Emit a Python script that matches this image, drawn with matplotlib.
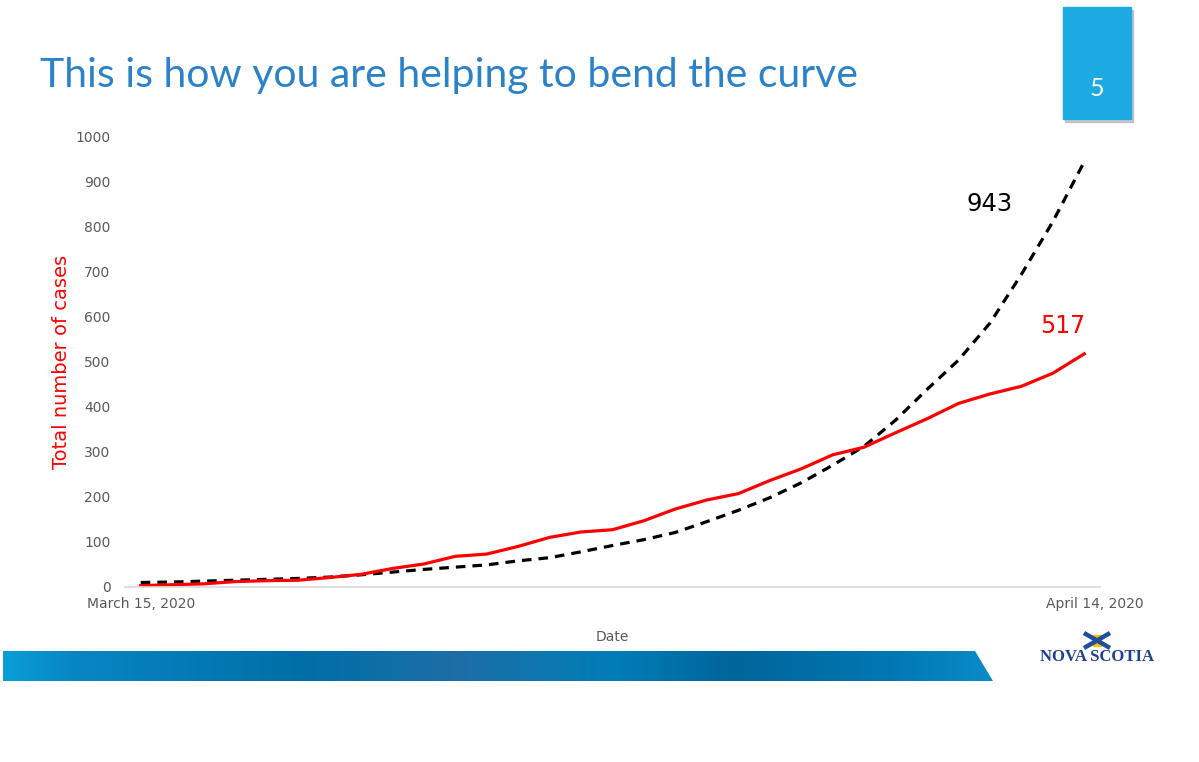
import numpy as np
import matplotlib.pyplot as plt
import matplotlib.transforms as mtransforms
from matplotlib.patches import Rectangle, Polygon
from matplotlib.colors import LinearSegmentedColormap


# --- Data ---

first_day = "March 15, 2020"
last_day = "April 14, 2020"

# confirmed cases, one value per day, Mar 15 .. Apr 14
confirmed = [3, 5, 7, 12, 14, 15, 21, 28, 41, 51, 68, 73, 90, 110, 122, 127,
             147, 173, 193, 207, 236, 262, 293, 310, 342, 373, 407, 428, 445,
             474, 517]

# projected curve without distancing
projected = [10, 11, 13, 15, 17, 19, 22, 27, 33, 39, 44, 49, 58, 65, 78, 92,
             105, 121, 145, 170, 198, 231, 270, 312, 370, 438, 503, 585, 693,
             810, 943]

y_ticks = [0, 100, 200, 300, 400, 500, 600, 700, 800, 900, 1000]

title = "This is how you are helping to bend the curve"
slide_no = "5"


# --- Figure and page decorations ---

W, H = 1199, 762
fig = plt.figure(figsize=(W / 100, H / 100), dpi=100)
fig.patch.set_facecolor("white")

bg = fig.add_axes([0, 0, 1, 1])
bg.set_xlim(0, W)
bg.set_ylim(H, 0)
bg.axis("off")

bg.text(40, 75, title, fontsize=29.5, color="#2C82C9", family="Lato",
        va="center", ha="left")

# slide number box with a soft shadow
bg.add_patch(Rectangle((1065, 10), 68, 112, color="#9a9a9a", alpha=0.5))
bg.add_patch(Rectangle((1063, 7), 68, 112, color="#1DA9E1"))
bg.text(1097, 88, slide_no, fontsize=18, color="white", family="Lato",
        ha="center", va="center")

# footer band with a blue gradient
band = Polygon([(3, 651), (975, 651), (993, 681), (3, 681)], closed=True,
               facecolor="none", edgecolor="none")
bg.add_patch(band)
band_cmap = LinearSegmentedColormap.from_list("band", [
    (0.00, "#0A9ED8"), (0.07, "#0886C4"), (0.30, "#006FA8"),
    (0.46, "#1D6EA5"), (0.62, "#007DB8"), (0.74, "#00659A"),
    (0.90, "#0078B4"), (1.00, "#0A8CC8"),
])
grad = np.linspace(0, 1, 512).reshape(1, -1)
im = bg.imshow(grad, cmap=band_cmap, extent=[3, 993, 681, 651],
               aspect="auto", interpolation="bicubic")
im.set_clip_path(band)
bg.set_xlim(0, W)
bg.set_ylim(H, 0)

# Nova Scotia logo (rough)
bg.plot([1084, 1110], [633, 648], color="#1F4E9C", lw=3.2, solid_capstyle="butt")
bg.plot([1084, 1110], [648, 633], color="#1F4E9C", lw=3.2, solid_capstyle="butt")
bg.add_patch(Rectangle((1093, 635), 8, 11, color="#F2C500"))
bg.text(1097, 657, "NOVA SCOTIA", fontsize=12, fontweight="bold",
        family="Liberation Serif", color="#1F3F8F", ha="center", va="center")


# --- Chart ---

ax = fig.add_axes([125 / W, 1 - 587 / H, 975 / W, 451 / H])
ax.set_facecolor("none")

days = np.arange(len(confirmed))
ax.plot(days, projected, color="black", lw=2.3, ls=(0, (3, 2.2)))
ax.plot(days, confirmed, color="#FF0000", lw=2.3)

ax.set_xlim(-0.5, len(confirmed) - 0.5)
ax.set_ylim(0, 1000)

ax.set_yticks(y_ticks)
ax.set_yticklabels([str(v) for v in y_ticks])
ax.set_xticks([0, len(confirmed) - 1])
ax.set_xticklabels([first_day, last_day])
ax.tick_params(axis="both", length=0, labelsize=10, colors="#595959")
ax.tick_params(axis="y", pad=10.5)
ax.tick_params(axis="x", pad=7)

# the last date label sits a little right of the last point
shift = mtransforms.ScaledTranslation(0.11, 0, fig.dpi_scale_trans)
xlabels = ax.get_xticklabels()
xlabels[-1].set_transform(xlabels[-1].get_transform() + shift)

for side in ("top", "right", "left"):
    ax.spines[side].set_visible(False)
ax.spines["bottom"].set_color("#D9D9D9")
ax.spines["bottom"].set_linewidth(1.2)

ax.set_ylabel("Total number of cases", color="#FF0000", fontsize=14,
              labelpad=3)
ax.set_xlabel("Date", color="#595959", fontsize=10, labelpad=14)

ax.text(days[-1] - 3.0, projected[-1] - 94, str(projected[-1]),
        fontsize=17.5, color="black", ha="center", va="center")
ax.text(days[-1] - 0.7, confirmed[-1] + 62, str(confirmed[-1]),
        fontsize=17, color="#FF0000", ha="center", va="center")

fig.savefig("out.png", dpi=100, facecolor="white")
